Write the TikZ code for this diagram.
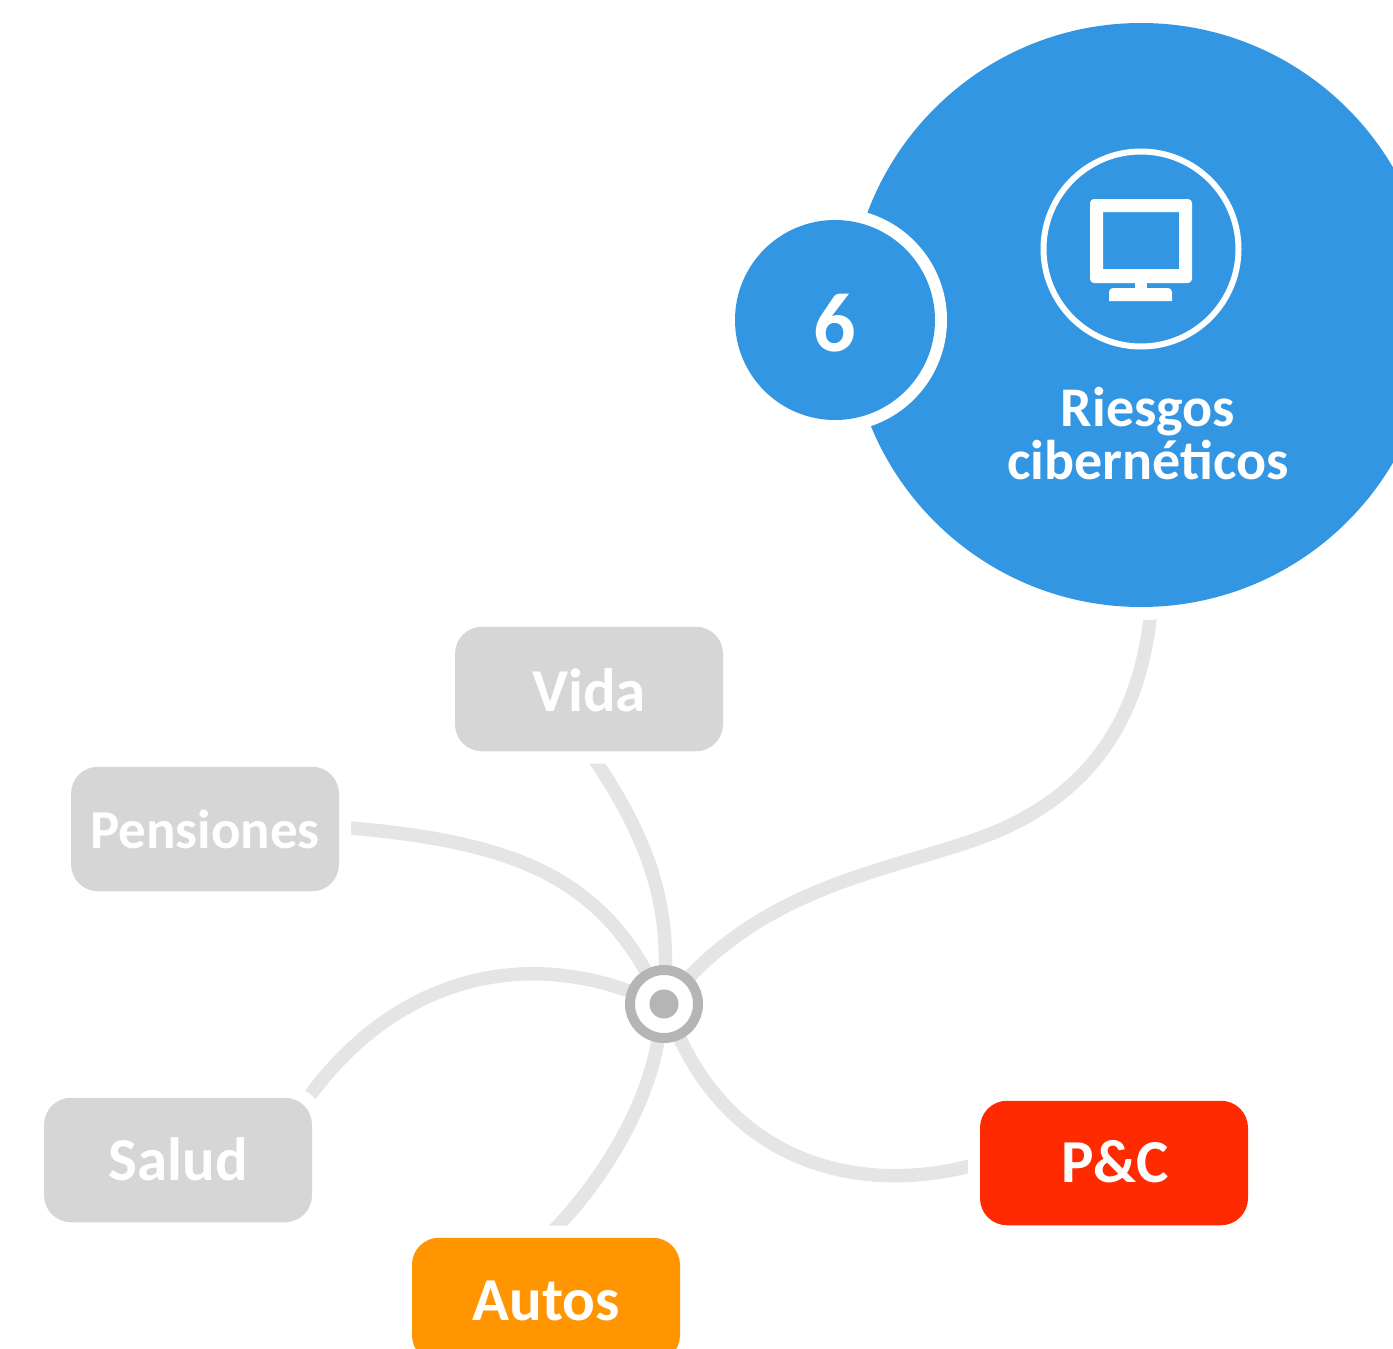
\documentclass[tikz,border=0pt]{standalone}
\usepackage{fontspec}
\setmainfont{Carlito}
\usetikzlibrary{backgrounds}
\definecolor{blueC}{HTML}{3396E2}
\definecolor{boxgray}{HTML}{D6D6D6}
\definecolor{linkgray}{HTML}{E5E5E5}
\definecolor{hubgray}{HTML}{B5B5B5}
\definecolor{redC}{HTML}{FF2A00}
\definecolor{orangeC}{HTML}{FF9500}
\tikzset{
  box/.style={rectangle,rounded corners=27pt,minimum width=268pt,minimum height=124.5pt,inner sep=0pt,outer sep=0pt},
  boxhalo/.style={rectangle,rounded corners=38pt,fill=white,minimum width=292pt,minimum height=149pt,inner sep=0pt,outer sep=0pt},
  link/.style={draw=linkgray,line width=13.5pt},
  label/.style={inner sep=0pt,outer sep=0pt,text=white,font=\fontsize{61}{61}\selectfont\bfseries,anchor=base},
}
\begin{document}
\begin{tikzpicture}[x=1pt,y=-1pt]
\useasboundingbox (0,0) rectangle (1393,1349);
\clip (0,0) rectangle (1393,1349);
% big disc and its parts
\node[circle,fill=blueC,minimum size=584pt,inner sep=0pt,outer sep=0pt] (big) at (1141,315) {};
\node[circle,fill=white,minimum size=224pt,inner sep=0pt,outer sep=0pt] (halo) at (835,320) {};
\node[circle,fill=blueC,minimum size=200pt,inner sep=0pt,outer sep=0pt] (num) at (835,320) {};
\node[label,font=\fontsize{84}{84}\selectfont\bfseries] (numtext) at (835,351) {6};
\node[circle,draw=white,line width=6pt,minimum size=195pt,inner sep=0pt,outer sep=0pt] (iconring) at (1141,249) {};
% monitor icon
\fill[white,rounded corners=4pt,even odd rule] (1090,199) rectangle (1192,283)
  [sharp corners] (1103,212) rectangle (1179,269);
\fill[white] (1134.5,282) rectangle (1147,289);
\fill[white] (1109,301) -- (1109,293) [rounded corners=4pt] -- (1109,288) -- (1172,288) [sharp corners] -- (1172,301) -- cycle;
\node[label,font=\fontsize{56}{56}\selectfont\bfseries] (riesgos) at (1148,426) {Riesgos};
\node[label,font=\fontsize{56}{56}\selectfont\bfseries] (ciber) at (1148,479) {cibernéticos};
% boxes
\node[box,fill=boxgray] (vida) at (589,689) {};
\node[label] (vidatext) at (589,711) {Vida};
\node[box,fill=boxgray] (pensiones) at (205,829) {};
\node[label,font=\fontsize{55}{55}\selectfont\bfseries] (penstext) at (205,848) {Pensiones};
\node[box,fill=boxgray] (salud) at (178,1160) {};
\node[label] (saludtext) at (178,1180) {Salud};
\node[box,fill=redC] (pc) at (1114,1163) {};
\node[label] (pctext) at (1115,1182) {P\&C};
\node[box,fill=orangeC] (autos) at (546,1300) {};
\node[label] (autostext) at (546,1320) {Autos};
% hub
\node[circle,draw=hubgray,fill=white,line width=10pt,minimum size=68pt,inner sep=0pt,outer sep=0pt] (hub) at (664,1004) {};
\node[circle,fill=hubgray,minimum size=29pt,inner sep=0pt,outer sep=0pt] (hubdot) at (664,1004) {};
\begin{scope}[on background layer]
\draw[link] (big.-88) .. controls (1141,725) and (1085,795) .. (993,833)
  .. controls (905,868) and (780,880) .. (hub);
\draw[link] (vida.south) .. controls (640,825) and (668,890) .. (hub);
\draw[link] ([yshift=2pt]pensiones.east) .. controls (500,840) and (590,870) .. (hub);
\draw[link] ([xshift=-12pt,yshift=-12pt]salud.north east) .. controls (380,990) and (505,945) .. (hub);
\draw[link] (autos.north) .. controls (588,1198) and (645,1120) .. (hub);
\draw[link] (pc.west) .. controls (885,1192) and (745,1180) .. (hub);
% white margins that keep the connectors off the boxes
\node[circle,fill=white,minimum size=610pt,inner sep=0pt,outer sep=0pt] (bighalo) at (big) {};
\node[boxhalo] (h1) at (vida) {};
\node[boxhalo] (h2) at (pensiones) {};
\node[boxhalo] (h3) at (salud) {};
\node[boxhalo] (h4) at (pc) {};
\node[boxhalo] (h5) at (autos) {};
\end{scope}
\end{tikzpicture}
\end{document}
